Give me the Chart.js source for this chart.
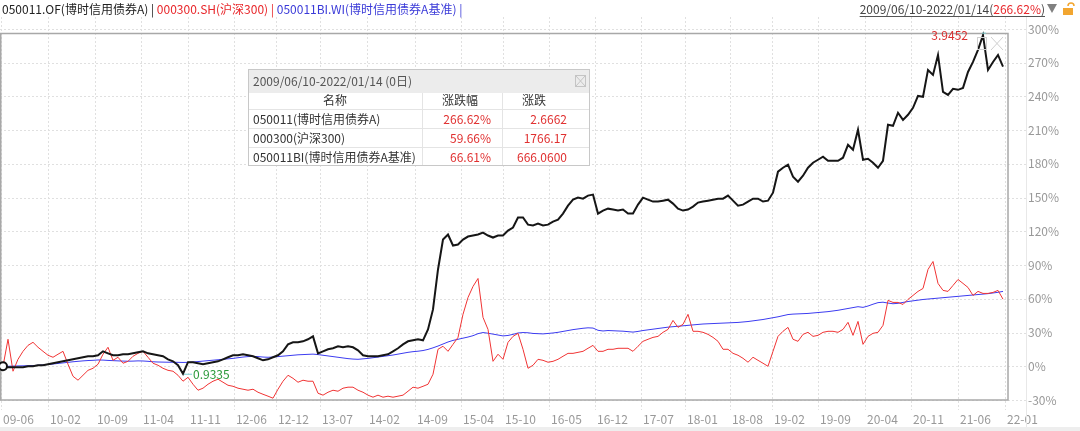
<!DOCTYPE html>
<html>
<head>
<meta charset="utf-8">
<script src="https://cdn.jsdelivr.net/npm/chart.js@4.4.0/dist/chart.umd.min.js"></script>
<style>
html, body { margin: 0; padding: 0; background: #fff; }
#wrap { width: 1080px; height: 431px; position: relative; }
</style>
</head>
<body>
<div id="wrap"><canvas id="chart" width="1080" height="431"></canvas></div>
<script>
// cumulative return (%), one value every ~5px
var fundReturn = [
  0, -0.9, -0.9, -0.9, -0.9, 0, 0, 0.9, 0.9, 1.8,
  2.7, 3.6, 4.4, 5.3, 6.2, 7.1, 8.0, 8.9, 8.9, 9.8,
  13.3, 11.5, 9.8, 9.8, 10.7, 10.7, 11.5, 12.4, 13.3, 11.5,
  10.7, 9.8, 8.9, 6.2, 4.4, 0.9, -6.65, 3.6, 3.6, 2.7,
  1.8, 2.7, 3.6, 4.4, 6.2, 8.0, 9.8, 9.8, 10.7, 9.8,
  8.9, 7.1, 5.3, 6.2, 8.0, 9.8, 13.3, 19.5, 21.3, 21.3,
  22.2, 24.0, 26.6, 11.5, 13.3, 15.1, 16.0, 17.8, 16.9, 17.8,
  16.9, 14.2, 9.8, 8.9, 8.9, 8.9, 9.8, 10.7, 13.3, 16.0,
  19.5, 22.2, 23.1, 24.0, 23.1, 32.8, 50.6, 86.1, 112.7, 117.2,
  107.4, 108.3, 112.7, 115.4, 116.3, 117.2, 118.9, 116.3, 114.5, 116.3,
  116.3, 120.7, 123.4, 132.3, 132.3, 126.0, 125.2, 126.9, 125.2, 126.0,
  128.7, 130.5, 135.8, 142.9, 148.2, 150.0, 149.1, 151.8, 152.7, 135.8,
  138.5, 140.2, 139.4, 138.5, 139.4, 135.8, 135.8, 143.8, 150.0, 148.2,
  146.5, 146.5, 147.3, 148.2, 144.7, 140.2, 138.5, 139.4, 142.0, 145.6,
  146.5, 147.3, 148.2, 149.1, 149.1, 151.8, 147.3, 142.9, 143.8, 146.5,
  149.1, 149.1, 146.5, 147.3, 154.4, 173.1, 176.6, 179.3, 168.6, 164.2,
  169.5, 176.6, 181.1, 183.7, 186.4, 182.8, 182.8, 182.8, 185.5, 197.0,
  192.6, 210.4, 183.7, 184.6, 181.1, 176.6, 182.8, 214.8, 213.9, 225.5,
  219.2, 223.7, 229.9, 240.5, 239.7, 263.6, 259.2, 276.9, 244.1, 241.4,
  246.8, 245.9, 247.6, 261.8, 270.7, 281.4, 294.52, 263.6, 270.7, 276.9,
  266.62
];
var csi300Return = [
  0, 24.0, -4.4, 6.2, 13.3, 18.6, 21.3, 16.9, 13.3, 9.8,
  8.0, 10.7, 13.3, 1.8, -8.9, -12.4, -8.0, -3.6, -1.8, 1.8,
  10.7, 16.9, 5.3, 8.0, 2.7, 4.4, 8.9, 11.5, 13.3, 8.0,
  2.7, 0.9, -1.8, -3.6, -4.4, -8.0, -13.3, -9.8, -16.0, -21.3,
  -19.5, -16.0, -13.3, -11.5, -14.2, -16.9, -17.8, -19.5, -20.4, -21.3,
  -20.4, -23.1, -24.9, -26.6, -28.4, -20.4, -13.3, -8.0, -10.7, -14.2,
  -12.4, -13.3, -13.3, -24.0, -25.7, -23.1, -21.3, -22.2, -19.5, -18.6,
  -18.6, -21.3, -23.1, -25.7, -27.5, -25.7, -27.5, -26.6, -27.5, -26.6,
  -25.7, -22.2, -18.6, -19.5, -17.8, -16.0, -7.1, 15.1, 17.8, 13.3,
  19.5, 25.7, 46.2, 61.2, 71.0, 78.1, 43.5, 32.8, 4.4, 10.7,
  6.2, 21.3, 26.6, 29.3, 15.1, -1.8, 0.9, 6.2, 5.3, 3.6,
  4.4, 6.2, 8.9, 11.5, 11.5, 12.4, 13.3, 16.0, 18.6, 13.3,
  13.3, 15.1, 15.1, 16.0, 16.0, 16.0, 13.3, 17.8, 22.2, 24.0,
  25.7, 26.6, 30.2, 32.8, 40.8, 34.6, 37.3, 46.2, 31.1, 31.1,
  30.2, 28.4, 25.7, 22.2, 15.1, 15.1, 11.5, 9.8, 7.1, 3.6,
  8.0, 5.3, 2.7, 0, 13.3, 26.6, 31.1, 34.6, 24.0, 22.2,
  28.4, 30.2, 26.6, 27.5, 30.2, 31.1, 31.1, 30.2, 32.8, 39.1,
  27.5, 39.9, 19.5, 26.6, 29.3, 30.2, 36.4, 58.6, 56.8, 56.8,
  55.0, 59.5, 63.0, 66.6, 69.2, 86.1, 93.2, 73.7, 67.5, 66.6,
  71.9, 77.2, 73.7, 70.1, 63.0, 66.6, 64.8, 64.8, 65.7, 67.5,
  59.66
];
var benchReturn = [
  0, 0, 0.2, 0.3, 0.4, 0.5, 0.6, 0.9, 1.2, 1.6,
  2.0, 2.5, 3.0, 3.5, 4.0, 4.4, 4.8, 5.1, 5.3, 5.6,
  5.5, 5.2, 5.0, 4.8, 4.6, 4.5, 4.6, 4.8, 4.7, 4.4,
  4.0, 3.8, 3.7, 3.6, 3.6, 3.5, 3.4, 3.5, 3.8, 4.2,
  4.6, 5.0, 5.4, 5.8, 6.2, 6.6, 7.0, 7.6, 8.2, 8.6,
  8.8, 8.6, 8.2, 8.0, 8.2, 8.6, 9.0, 9.4, 9.8, 10.2,
  10.4, 10.6, 10.8, 10.4, 9.8, 9.2, 8.6, 8.0, 7.4, 6.8,
  6.4, 6.2, 6.6, 7.0, 7.6, 8.2, 8.8, 9.4, 10.0, 10.8,
  11.6, 12.4, 13.0, 13.4, 14.0, 15.0, 16.4, 18.0, 19.8, 21.6,
  23.0, 24.0, 25.0, 26.0, 27.2, 29.0, 30.0, 29.4, 28.6, 27.8,
  27.0, 27.4, 28.4, 29.6, 30.0, 29.8, 29.2, 29.0, 28.8, 29.2,
  29.6, 30.2, 31.0, 31.8, 32.6, 33.2, 33.8, 34.2, 34.0, 32.0,
  31.4, 31.8, 31.6, 31.4, 31.2, 30.8, 30.4, 31.0, 31.8, 32.4,
  33.0, 33.6, 34.2, 34.8, 35.2, 35.6, 36.0, 36.4, 36.8, 37.2,
  37.6, 37.8, 38.0, 38.2, 38.4, 38.6, 38.8, 39.0, 39.4, 39.8,
  40.4, 41.0, 41.6, 42.4, 43.2, 44.0, 45.0, 46.0, 46.4, 46.6,
  46.8, 47.0, 47.4, 47.8, 48.2, 48.6, 49.2, 49.8, 50.6, 51.4,
  52.2, 53.0, 52.4, 53.6, 55.2, 56.6, 57.0, 56.2, 55.6, 56.0,
  56.8, 57.6, 58.2, 58.8, 59.4, 59.8, 60.2, 60.6, 61.0, 61.4,
  61.8, 62.2, 62.6, 63.0, 63.4, 63.8, 64.2, 64.6, 65.2, 65.8,
  66.61
];

// x axis ticks (position in sample index) and their labels
var xTickIndex = [-0.4, 9, 18.4, 27.6, 37, 46.2, 54.6, 63.4, 72.8, 82.4, 91.6, 100,
  109.2, 118.4, 127.6, 136.4, 145.4, 153.8, 163, 172.4, 181.6, 191, 200.4];
var xTickLabels = ['09-06', '10-02', '10-09', '11-04', '11-11', '12-06', '12-12', '13-07',
  '14-02', '14-09', '15-04', '15-10', '16-05', '16-12', '17-07', '18-01', '18-08',
  '19-02', '19-09', '20-04', '20-11', '21-06', '22-01'];

var seriesNames = ['050011.OF(博时信用债券A)', '000300.SH(沪深300)', '050011BI.WI(博时信用债券A基准)'];
var seriesColors = ['#161616', '#f03434', '#3c3cf0'];
var headerColors = ['#222', '#e8262a', '#3a3ad8'];

var tableNames = ['050011(博时信用债券A)', '000300(沪深300)', '050011BI(博时信用债券A基准)'];
var tablePct = ['266.62%', '59.66%', '66.61%'];
var tableChange = ['2.6662', '1766.17', '666.0600'];
var periodText = '2009/06/10-2022/01/14';

var FONT = '"Noto Sans CJK SC", "Noto Sans", sans-serif';

function toPoints(arr) {
  return arr.map(function(v, i) { return { x: i, y: v }; });
}

var gridPlugin = {
  id: 'gridBox',
  beforeDatasetsDraw: function(chart) {
    var ctx = chart.ctx, xs = chart.scales.x, ys = chart.scales.y, area = chart.chartArea;
    ctx.save();
    ctx.lineWidth = 1;
    ctx.strokeStyle = '#e0e0e0';
    ctx.setLineDash([2, 2]);
    xTickIndex.forEach(function(v) {
      var px = Math.round(xs.getPixelForValue(v)) + 0.5;
      ctx.beginPath(); ctx.moveTo(px, 17); ctx.lineTo(px, 410); ctx.stroke();
    });
    ys.ticks.forEach(function(t) {
      var py = Math.round(ys.getPixelForValue(t.value)) + 0.5;
      ctx.beginPath(); ctx.moveTo(0, py); ctx.lineTo(1026, py); ctx.stroke();
    });
    ctx.setLineDash([]);
    ctx.strokeStyle = '#e8e8e8';
    ctx.beginPath(); ctx.moveTo(1026.5, 17); ctx.lineTo(1026.5, 428); ctx.stroke();
    // plot frame
    ctx.strokeStyle = '#a8a8a8';
    ctx.lineWidth = 1.5;
    ctx.strokeRect(area.left + 0.75, 33.5, area.right - area.left - 0.75, area.bottom - 33.5);
    // bottom band
    ctx.fillStyle = '#eeeeee';
    ctx.fillRect(0, 427, 1080, 4);
    ctx.restore();
  }
};

var notePlugin = {
  id: 'notes',
  afterDatasetsDraw: function(chart) {
    var ctx = chart.ctx, xs = chart.scales.x, ys = chart.scales.y;
    var minI = 0, maxI = 0;
    fundReturn.forEach(function(v, i) {
      if (v < fundReturn[minI]) minI = i;
      if (v > fundReturn[maxI]) maxI = i;
    });
    ctx.save();
    ctx.font = '12px ' + FONT;
    ctx.textBaseline = 'middle';
    var mx = xs.getPixelForValue(minI), my = ys.getPixelForValue(fundReturn[minI]);
    ctx.strokeStyle = '#7fcfd0';
    ctx.lineWidth = 1;
    ctx.beginPath(); ctx.moveTo(mx + 1, my + 0.5); ctx.lineTo(mx + 9, my + 0.5); ctx.stroke();
    ctx.fillStyle = '#2a9a3a';
    ctx.textAlign = 'left';
    ctx.fillText((1 + fundReturn[minI] / 100).toFixed(4), mx + 10, my + 1);
    var hx = xs.getPixelForValue(maxI), hy = ys.getPixelForValue(fundReturn[maxI]);
    ctx.strokeStyle = '#7fcfd0';
    ctx.beginPath(); ctx.moveTo(hx - 1, hy - 2); ctx.lineTo(hx + 3, hy - 2); ctx.stroke();
    ctx.fillStyle = '#d93030';
    ctx.textAlign = 'right';
    ctx.fillText((1 + fundReturn[maxI] / 100).toFixed(4), hx - 15, hy);
    // tool icons in the frame corner
    ctx.strokeStyle = '#cfcfcf';
    ctx.strokeRect(977.5, 37.5, 9, 12);
    ctx.beginPath();
    ctx.moveTo(991, 37); ctx.lineTo(1003, 50); ctx.moveTo(1003, 37); ctx.lineTo(991, 50);
    ctx.stroke();
    ctx.restore();
  },
  afterDraw: function(chart) {
    var ctx = chart.ctx;
    ctx.save();
    ctx.font = '12px ' + FONT;
    ctx.textBaseline = 'middle';
    ctx.textAlign = 'left';
    // series header line
    var x = 2;
    seriesNames.forEach(function(n, i) {
      ctx.fillStyle = headerColors[i];
      var s = n + ' | ';
      ctx.fillText(s, x, 9);
      x += ctx.measureText(s).width;
    });
    // period on the right
    var p1 = periodText + '(', p2 = tablePct[0], p3 = ')';
    var w1 = ctx.measureText(p1).width, w2 = ctx.measureText(p2).width, w3 = ctx.measureText(p3).width;
    var rx = 1045 - (w1 + w2 + w3);
    ctx.fillStyle = '#444'; ctx.fillText(p1, rx, 9);
    ctx.fillStyle = '#e8262a'; ctx.fillText(p2, rx + w1, 9);
    ctx.fillStyle = '#444'; ctx.fillText(p3, rx + w1 + w2, 9);
    ctx.strokeStyle = '#555'; ctx.lineWidth = 1;
    ctx.beginPath(); ctx.moveTo(rx, 16.5); ctx.lineTo(1045, 16.5); ctx.stroke();
    ctx.fillStyle = '#808080';
    ctx.beginPath(); ctx.moveTo(1047, 4); ctx.lineTo(1057, 4); ctx.lineTo(1052, 13); ctx.closePath(); ctx.fill();
    // lock icon
    ctx.fillStyle = '#f2a630';
    ctx.fillRect(1063, 8, 10, 7);
    ctx.strokeStyle = '#f2a630'; ctx.lineWidth = 1.5;
    ctx.beginPath(); ctx.arc(1071, 6, 3, Math.PI, 0); ctx.stroke();

    // info table
    var x0 = 248, y0 = 69, w = 341, h = 96;
    ctx.fillStyle = '#fff'; ctx.fillRect(x0, y0, w, h);
    ctx.fillStyle = '#ececec'; ctx.fillRect(x0, y0, w, 24);
    ctx.strokeStyle = '#e4e4e4'; ctx.lineWidth = 1;
    [109.5, 128.5, 147.5].forEach(function(y) {
      ctx.beginPath(); ctx.moveTo(x0, y); ctx.lineTo(x0 + w, y); ctx.stroke();
    });
    [422.5, 502.5].forEach(function(xx) {
      ctx.beginPath(); ctx.moveTo(xx, y0 + 24); ctx.lineTo(xx, y0 + h); ctx.stroke();
    });
    ctx.strokeStyle = '#c8c8c8';
    ctx.strokeRect(x0 + 0.5, y0 + 0.5, w, h);
    ctx.strokeStyle = '#c4c4c4';
    ctx.strokeRect(575.5, 75.5, 10, 11);
    ctx.beginPath(); ctx.moveTo(576, 76); ctx.lineTo(585, 86); ctx.moveTo(585, 76); ctx.lineTo(576, 86); ctx.stroke();
    ctx.fillStyle = '#555';
    ctx.fillText(periodText + ' (0日)', 253, 81);
    ctx.fillStyle = '#333';
    ctx.textAlign = 'center';
    ctx.fillText('名称', 335, 100);
    ctx.fillText('涨跌幅', 460, 100);
    ctx.fillText('涨跌', 534, 100);
    var rowY = [119, 138, 157];
    tableNames.forEach(function(n, i) {
      ctx.textAlign = 'left'; ctx.fillStyle = '#333';
      ctx.fillText(n, 253, rowY[i]);
      ctx.textAlign = 'right'; ctx.fillStyle = '#e03030';
      ctx.fillText(tablePct[i], 491, rowY[i]);
      ctx.fillText(tableChange[i], 567, rowY[i]);
    });
    ctx.restore();
  }
};

new Chart(document.getElementById('chart').getContext('2d'), {
  type: 'line',
  data: {
    datasets: [
      {
        label: seriesNames[0],
        data: toPoints(fundReturn),
        borderColor: seriesColors[0],
        borderWidth: 2,
        pointRadius: function(c) { return c.dataIndex === 0 ? 4 : 0; },
        pointBackgroundColor: '#fff',
        pointBorderColor: '#111',
        pointBorderWidth: 2,
        tension: 0,
        clip: false
      },
      {
        label: seriesNames[1],
        data: toPoints(csi300Return),
        borderColor: seriesColors[1],
        borderWidth: 1,
        pointRadius: 0,
        tension: 0
      },
      {
        label: seriesNames[2],
        data: toPoints(benchReturn),
        borderColor: seriesColors[2],
        borderWidth: 1,
        pointRadius: 0,
        tension: 0
      }
    ]
  },
  options: {
    responsive: false,
    devicePixelRatio: 1,
    animation: false,
    events: [],
    layout: { autoPadding: false, padding: { top: 29, left: 0, right: 0, bottom: 0 } },
    plugins: { legend: { display: false }, tooltip: { enabled: false } },
    scales: {
      x: {
        type: 'linear',
        min: -0.6,
        max: 201,
        afterFit: function(s) { s.height = 31; s.paddingLeft = 0; s.paddingRight = 0; },
        afterBuildTicks: function(s) {
          s.ticks = xTickIndex.map(function(v) { return { value: v }; });
        },
        grid: { display: false, drawTicks: false },
        border: { display: false },
        ticks: {
          autoSkip: false,
          maxRotation: 0,
          align: 'start',
          labelOffset: 2,
          padding: 12,
          color: '#999',
          font: { size: 12, family: FONT },
          callback: function(v) {
            var k = xTickIndex.indexOf(v);
            return k >= 0 ? xTickLabels[k] : '';
          }
        }
      },
      y: {
        position: 'right',
        min: -30,
        max: 300,
        afterFit: function(s) { s.width = 72; s.paddingTop = 0; s.paddingBottom = 0; },
        grid: { display: false, drawTicks: false },
        border: { display: false },
        ticks: {
          stepSize: 30,
          padding: 20,
          color: '#999',
          font: { size: 12, family: FONT },
          callback: function(v) { return v + '%'; }
        }
      }
    }
  },
  plugins: [gridPlugin, notePlugin]
});
</script>
</body>
</html>
